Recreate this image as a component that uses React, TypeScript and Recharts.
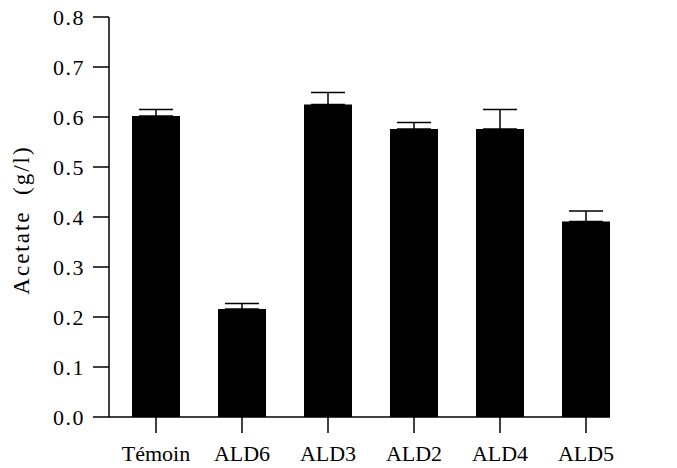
import { BarChart, Bar, XAxis, YAxis, ErrorBar } from 'recharts';

const strains = ['Témoin', 'ALD6', 'ALD3', 'ALD2', 'ALD4', 'ALD5'];
const acetate = [0.602, 0.216, 0.625, 0.576, 0.576, 0.391];
const acetateSd = [0.013, 0.011, 0.024, 0.013, 0.039, 0.021];
const yTicks = [0, 0.1, 0.2, 0.3, 0.4, 0.5, 0.6, 0.7, 0.8];

const chartData = strains.map((name, i) => ({
  name,
  value: acetate[i],
  // upward-only error bar
  err: [0, acetateSd[i]],
}));

const font = '"Liberation Serif", "Times New Roman", serif';

export default function App() {
  return (
    <div style={{ position: 'absolute', left: 0, top: 0, width: 677, height: 468, background: '#fff' }}>
      <BarChart
        width={677}
        height={468}
        data={chartData}
        margin={{ top: 17, right: 67, bottom: 0, left: 0 }}
        barSize={48}
      >
        <XAxis
          dataKey="name"
          height={51}
          padding={{ left: 4, right: -19 }}
          tickSize={16}
          tickMargin={12}
          axisLine={{ stroke: '#000', strokeWidth: 1.5 }}
          tickLine={{ stroke: '#000', strokeWidth: 1.5 }}
          tick={{ fill: '#000', fontSize: 22, fontFamily: font }}
          interval={0}
        />
        <YAxis
          width={109}
          domain={[0, 0.8]}
          ticks={yTicks}
          tickFormatter={(v: number) => v.toFixed(1)}
          tickSize={16}
          tickMargin={8}
          axisLine={{ stroke: '#000', strokeWidth: 1.5 }}
          tickLine={{ stroke: '#000', strokeWidth: 1.5 }}
          tick={{ fill: '#000', fontSize: 22, fontFamily: font, letterSpacing: 1.5 }}
          label={{
            value: 'Acetate\u00a0 (g/l)',
            angle: -90,
            position: 'insideLeft',
            offset: 21,
            dy: 3,
            style: { textAnchor: 'middle', fill: '#000', fontSize: 23, fontFamily: font, letterSpacing: 2 },
          }}
        />
        <Bar dataKey="value" fill="#000" isAnimationActive={false}>
          <ErrorBar dataKey="err" width={17} stroke="#000" strokeWidth={1.5} direction="y" />
        </Bar>
      </BarChart>
    </div>
  );
}
